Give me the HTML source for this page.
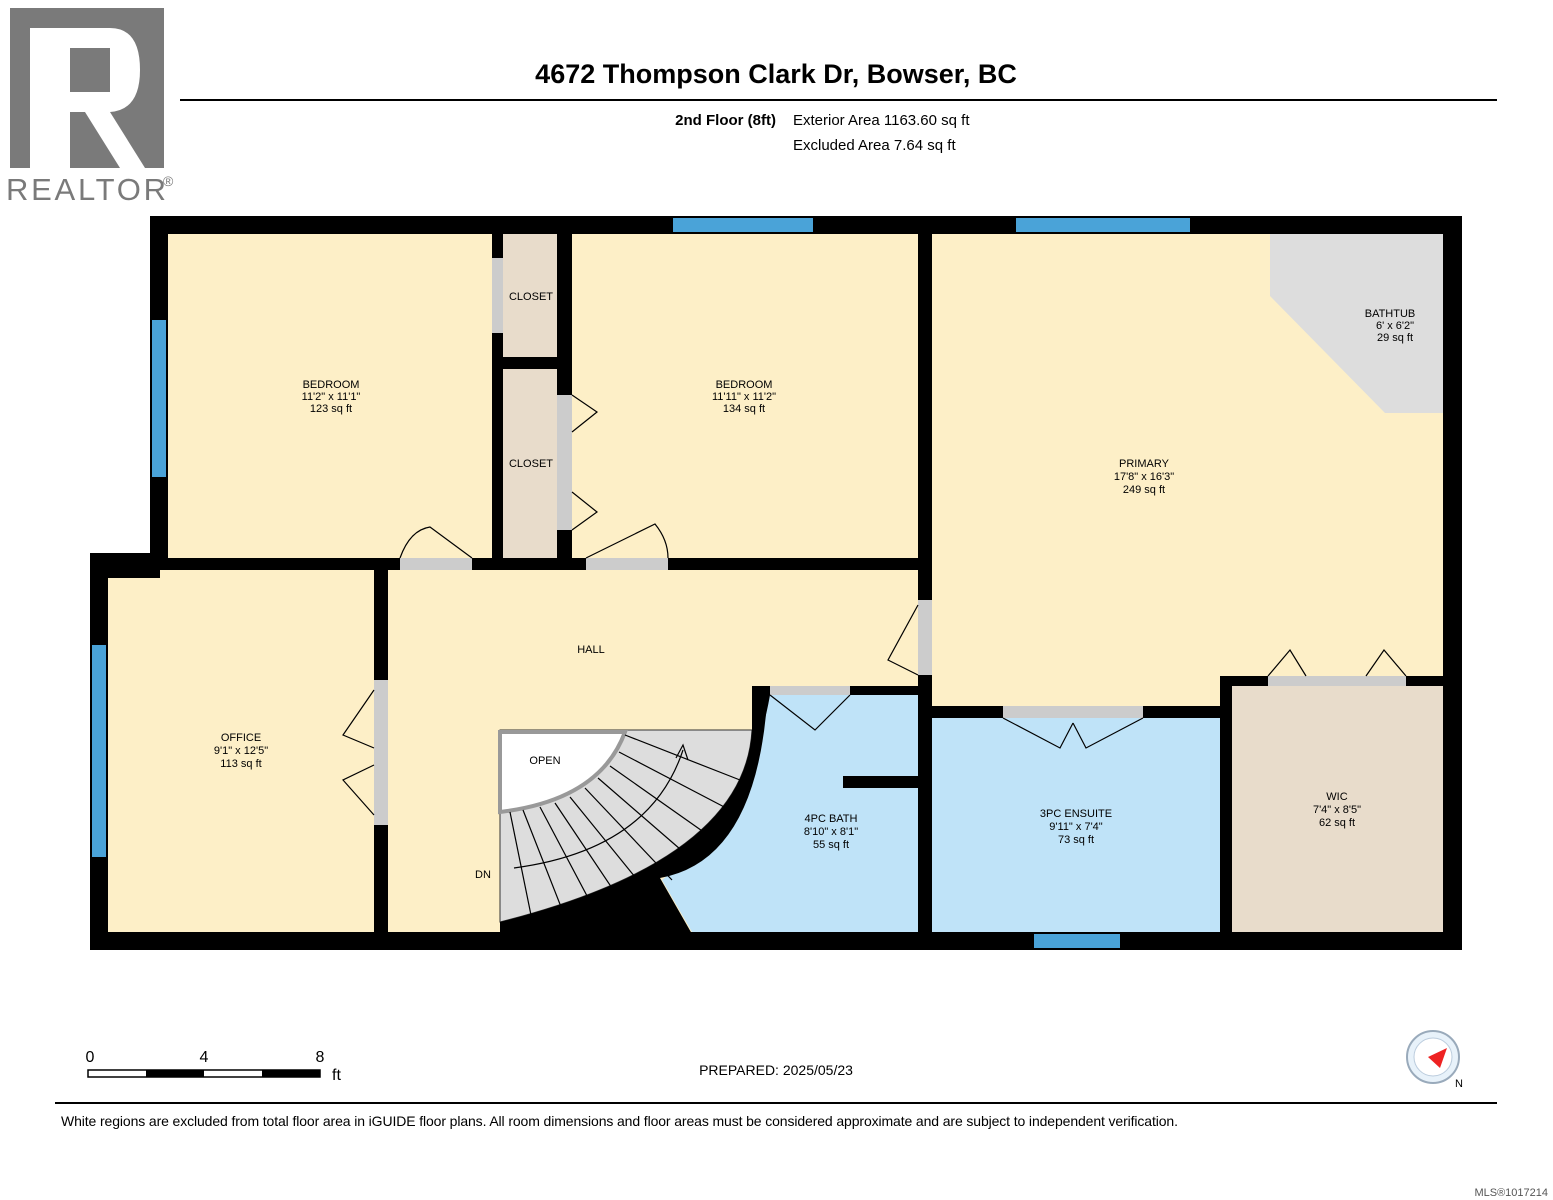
<!DOCTYPE html>
<html><head><style>
html,body{margin:0;background:#fff;width:1553px;height:1200px;overflow:hidden;font-family:"Liberation Sans",sans-serif}
svg{display:block}
</style></head><body>
<svg width="1553" height="1200" xmlns="http://www.w3.org/2000/svg" font-family="Liberation Sans, sans-serif">
<rect x="10" y="8" width="154" height="160" fill="#7a7a7a"/>
<rect x="30" y="28" width="40" height="140" fill="#fff"/>
<path d="M70 28 H110 Q140 28 140 70 Q140 110 110 112 L145 168 H120 L85 112 H70 Z" fill="#fff"/>
<rect x="70" y="48" width="40" height="44" fill="#7a7a7a"/>
<text x="6" y="200" font-size="31" fill="#7a7a7a" textLength="160">REALTOR</text>
<text x="163" y="186" font-size="14" fill="#7a7a7a">®</text>
<text x="776" y="83" font-size="27" font-weight="bold" text-anchor="middle">4672 Thompson Clark Dr, Bowser, BC</text>
<line x1="180" y1="100" x2="1497" y2="100" stroke="#000" stroke-width="2"/>
<text x="776" y="125" font-size="15" font-weight="bold" text-anchor="end">2nd Floor (8ft)</text>
<text x="793" y="125" font-size="15">Exterior Area 1163.60 sq ft</text>
<text x="793" y="150" font-size="15">Excluded Area 7.64 sq ft</text>

<rect x="150" y="216" width="1312" height="734" fill="#000"/>
<rect x="90" y="553" width="70" height="397" fill="#000"/>
<g fill="#fdefc7">
<rect x="168" y="234" width="324" height="324"/>
<rect x="572" y="234" width="346" height="324"/>
<rect x="932" y="234" width="511" height="442"/>
<rect x="932" y="676" width="288" height="30"/>
<rect x="108" y="578" width="266" height="354"/>
<rect x="160" y="570" width="214" height="10"/>
<rect x="388" y="570" width="530" height="116"/>
<rect x="388" y="686" width="365" height="246"/>
</g>
<polygon points="1270,234 1443,234 1443,413 1385,413 1270,296" fill="#ddd"/>
<g fill="#e8dccb">
<rect x="503" y="234" width="54" height="123"/>
<rect x="503" y="369" width="54" height="189"/>
<rect x="1232" y="686" width="211" height="246"/>
</g>
<g fill="#bfe3f8">
<rect x="932" y="718" width="288" height="214"/>
<path d="M770 695 H918 V932 H692 L662 880 Q750 810 770 695Z"/>
</g>
<rect x="843" y="776" width="75" height="12" fill="#000"/>
<rect x="918" y="686" width="14" height="246" fill="#000"/>
<rect x="1220" y="676" width="12" height="256" fill="#000"/>
<rect x="932" y="706" width="288" height="12" fill="#000"/>
<rect x="1220" y="676" width="223" height="10" fill="#000"/>
<path d="M500 730 H752 Q745 860 500 922 Z" fill="#ddd" stroke="#333" stroke-width="1"/>
<path d="M752 686 H768 Q760 860 660 878 L692 934 H500 V922 Q745 860 752 730Z" fill="#000"/>
<path d="M500 732 H625 Q600 800 500 812 Z" fill="#fff" stroke="#999" stroke-width="4"/>
<g stroke="#000" stroke-width="1.2">
<line x1="625" y1="735" x2="740" y2="780"/><line x1="619" y1="752" x2="730" y2="810"/>
<line x1="610" y1="766" x2="715" y2="840"/><line x1="598" y1="778" x2="695" y2="862"/>
<line x1="585" y1="788" x2="672" y2="880"/><line x1="570" y1="797" x2="648" y2="893"/>
<line x1="555" y1="803" x2="622" y2="903"/><line x1="540" y1="807" x2="595" y2="911"/>
<line x1="523" y1="810" x2="565" y2="917"/><line x1="510" y1="812" x2="532" y2="920"/>
<path d="M514 868 Q650 850 683 750" fill="none"/>
<path d="M676 758 L683 745 L688 760" fill="none"/>
</g>
<g fill="#4aa3d8">
<rect x="673" y="218" width="140" height="14"/><rect x="1016" y="218" width="174" height="14"/>
<rect x="152" y="320" width="14" height="157"/><rect x="92" y="645" width="14" height="212"/>
<rect x="1034" y="934" width="86" height="14"/>
</g>
<g fill="#ccc">
<rect x="400" y="558" width="72" height="12"/><rect x="586" y="558" width="82" height="12"/>
<rect x="374" y="680" width="14" height="145"/><rect x="918" y="600" width="14" height="75"/>
<rect x="1003" y="706" width="140" height="12"/><rect x="1268" y="676" width="138" height="10"/>
<rect x="770" y="686" width="80" height="9"/><rect x="492" y="258" width="11" height="75"/>
<rect x="557" y="395" width="15" height="135"/>
</g>
<g fill="none" stroke="#000" stroke-width="1.2">
<path d="M400 558 Q410 530 430 527 L472 558"/><path d="M586 558 L655 524 Q668 540 668 558"/>
<path d="M374 690 L343 735 L374 748 M374 815 L343 780 L374 765"/>
<path d="M918 605 L888 660 L918 675"/>
<path d="M1003 718 L1060 748 L1073 723 M1143 718 L1086 748 L1073 723"/>
<path d="M1268 676 L1290 650 L1306 676 M1406 676 L1384 650 L1366 676"/>
<path d="M770 695 L815 730 L850 695"/>
<path d="M572 395 L597 412 L572 432 M572 530 L597 512 L572 492"/>
</g>
<g font-size="11" text-anchor="middle" fill="#000">
<text x="331" y="388">BEDROOM</text><text x="331" y="400">11'2" x 11'1"</text><text x="331" y="412">123 sq ft</text>
<text x="744" y="388">BEDROOM</text><text x="744" y="400">11'11" x 11'2"</text><text x="744" y="412">134 sq ft</text>
<text x="531" y="300">CLOSET</text><text x="531" y="467">CLOSET</text>
<text x="1144" y="467">PRIMARY</text><text x="1144" y="480">17'8" x 16'3"</text><text x="1144" y="493">249 sq ft</text>
<text x="1390" y="317">BATHTUB</text><text x="1395" y="329">6' x 6'2"</text><text x="1395" y="341">29 sq ft</text>
<text x="591" y="653">HALL</text><text x="545" y="764">OPEN</text><text x="483" y="878">DN</text>
<text x="241" y="741">OFFICE</text><text x="241" y="754">9'1" x 12'5"</text><text x="241" y="767">113 sq ft</text>
<text x="831" y="822">4PC BATH</text><text x="831" y="835">8'10" x 8'1"</text><text x="831" y="848">55 sq ft</text>
<text x="1076" y="817">3PC ENSUITE</text><text x="1076" y="830">9'11" x 7'4"</text><text x="1076" y="843">73 sq ft</text>
<text x="1337" y="800">WIC</text><text x="1337" y="813">7'4" x 8'5"</text><text x="1337" y="826">62 sq ft</text>
</g>
<g font-size="16" text-anchor="middle">
<text x="90" y="1062">0</text><text x="204" y="1062">4</text><text x="320" y="1062">8</text>
</g>
<text x="332" y="1080" font-size="16">ft</text>
<rect x="88" y="1070" width="232" height="7" fill="#fff" stroke="#000" stroke-width="1.5"/>
<rect x="146" y="1070" width="58" height="7" fill="#000"/>
<rect x="262" y="1070" width="58" height="7" fill="#000"/>
<text x="776" y="1075" font-size="14" text-anchor="middle">PREPARED: 2025/05/23</text>
<circle cx="1433" cy="1057" r="26" fill="#e8f2fa" stroke="#9ab" stroke-width="2"/>
<circle cx="1433" cy="1057" r="19" fill="#fff" stroke="#bcd"/>
<polygon points="1428,1057 1447,1048 1440,1068" fill="#e22"/>
<text x="1455" y="1087" font-size="11">N</text>
<line x1="55" y1="1103" x2="1497" y2="1103" stroke="#000" stroke-width="2"/>
<text x="61" y="1126" font-size="14" textLength="1117">White regions are excluded from total floor area in iGUIDE floor plans. All room dimensions and floor areas must be considered approximate and are subject to independent verification.</text>
<text x="1548" y="1196" font-size="11" fill="#555" text-anchor="end">MLS®1017214</text>
</svg>
</body></html>
